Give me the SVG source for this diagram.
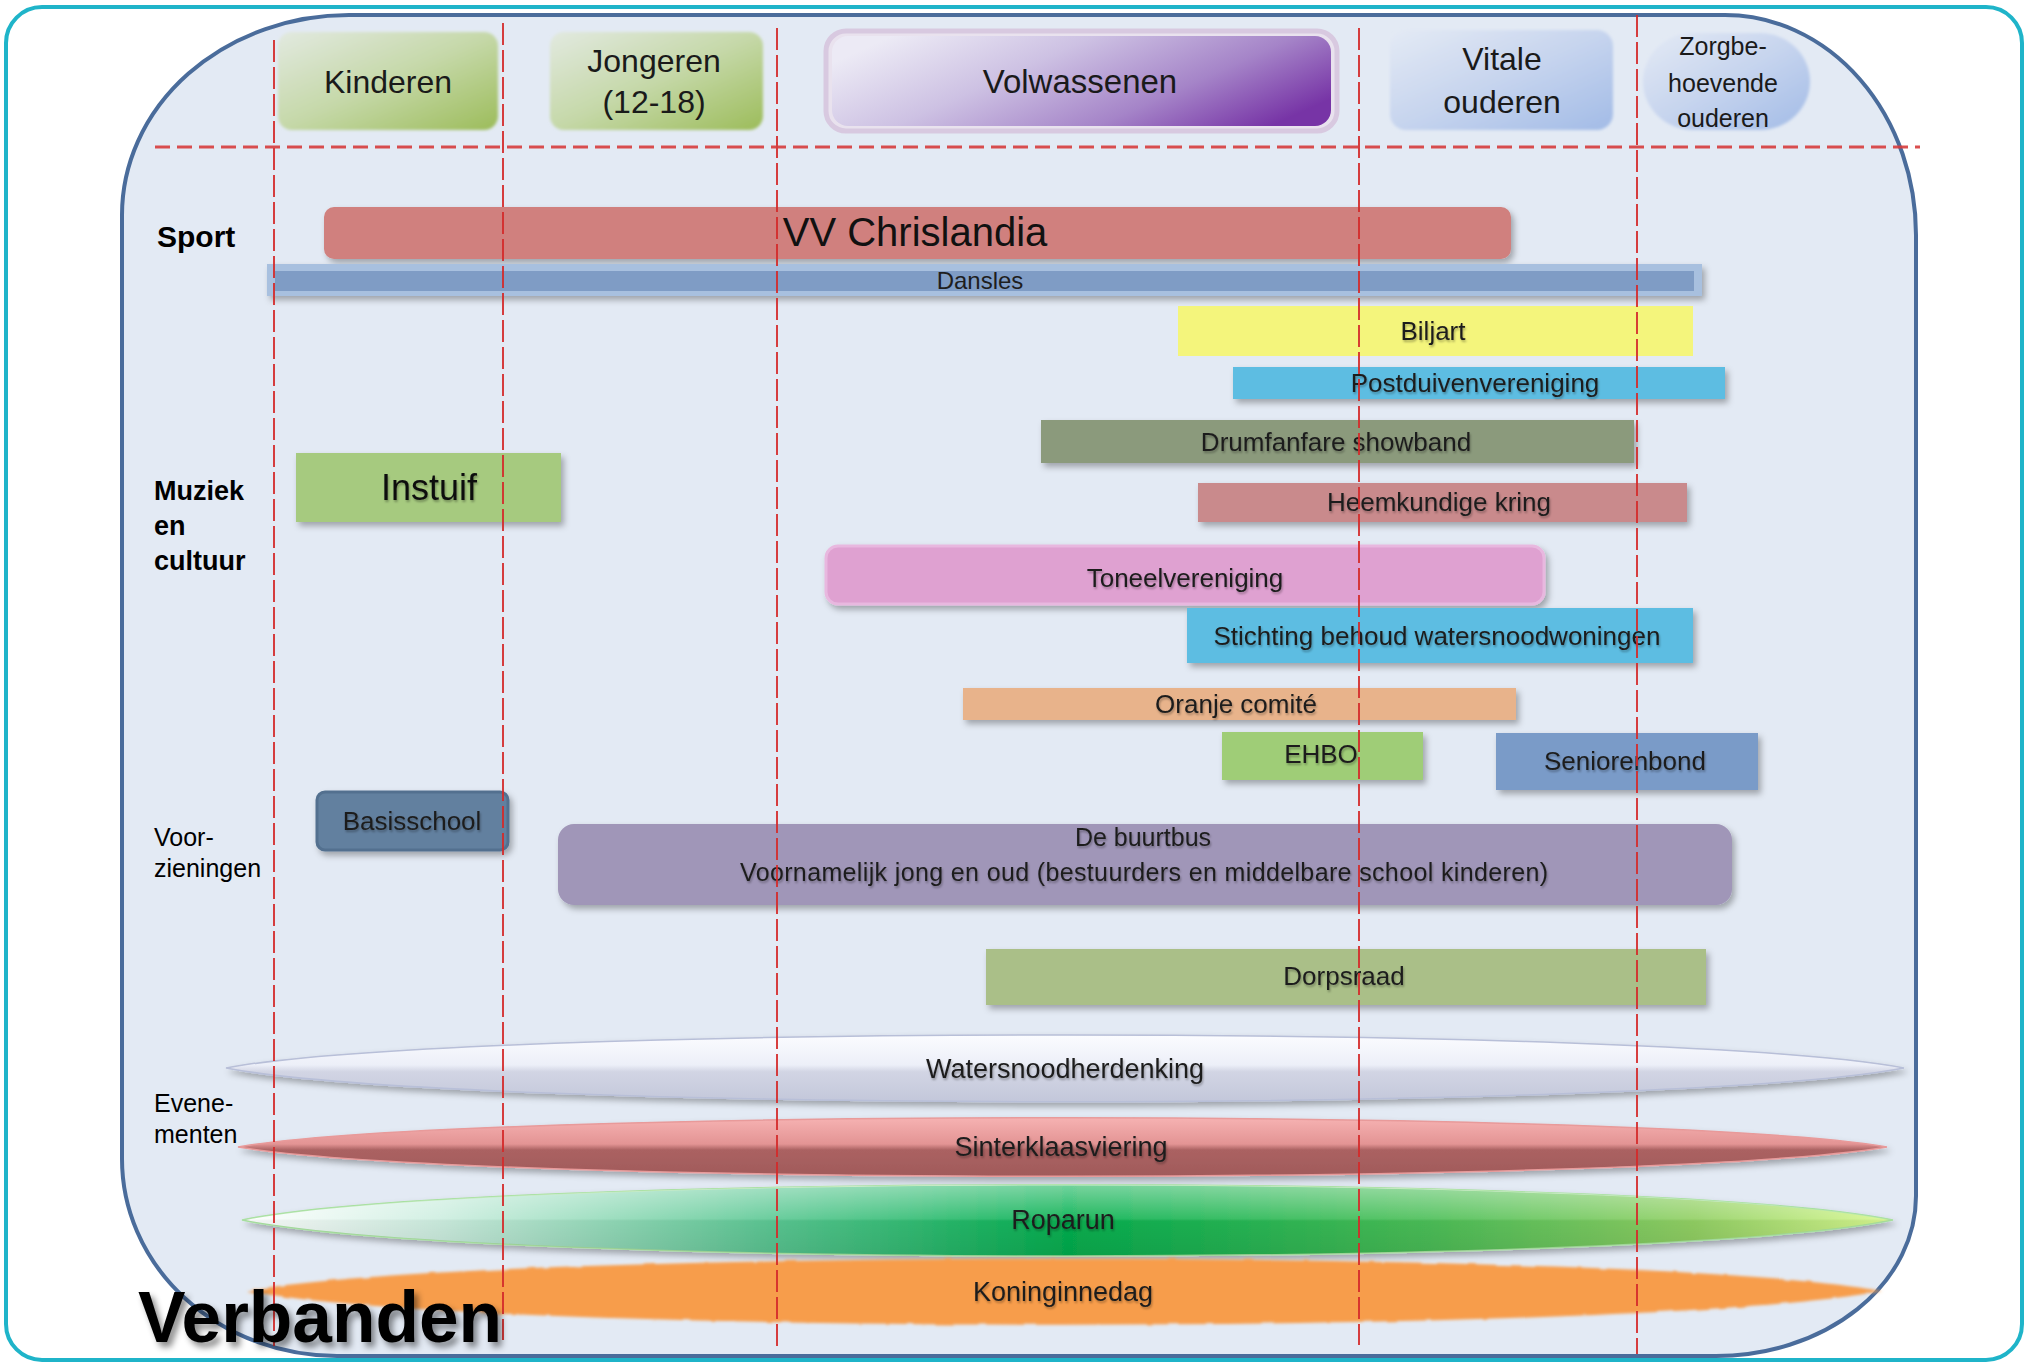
<svg xmlns="http://www.w3.org/2000/svg" width="2029" height="1363" viewBox="0 0 2029 1363">
<defs>
<style>
.lbl{font-family:"Liberation Sans",Arial,sans-serif;font-size:26px;fill:#1e1e1e;text-anchor:middle}
.hdr{font-family:"Liberation Sans",Arial,sans-serif;font-size:32px;fill:#1a1a1a;text-anchor:middle}
.row{font-family:"Liberation Sans",Arial,sans-serif;font-size:25px;fill:#000}
.rowb{font-family:"Liberation Sans",Arial,sans-serif;font-weight:bold;fill:#000}
.vd{stroke:#d42a2a;stroke-width:2;stroke-dasharray:22 5;fill:none}
.hd{stroke:#d63c3c;stroke-width:3;stroke-dasharray:15 7;fill:none}
</style>
<filter id="sh" x="-0.05" y="-0.5" width="1.1" height="2.2">
<feDropShadow dx="3" dy="4" stdDeviation="3" flood-color="#000" flood-opacity="0.3"/>
</filter>
<filter id="ts" x="-0.1" y="-0.3" width="1.2" height="1.6">
<feDropShadow dx="1" dy="2" stdDeviation="1.2" flood-color="#000" flood-opacity="0.3"/>
</filter>
<filter id="vs" x="-0.1" y="-0.3" width="1.3" height="1.7">
<feDropShadow dx="4" dy="5" stdDeviation="3" flood-color="#000" flood-opacity="0.45"/>
</filter>
<filter id="soft" x="-0.1" y="-0.2" width="1.2" height="1.4">
<feGaussianBlur stdDeviation="1.5"/>
</filter>
<filter id="fuzzy" x="-0.05" y="-0.5" width="1.1" height="2">
<feTurbulence type="fractalNoise" baseFrequency="0.05" numOctaves="2" result="n"/>
<feDisplacementMap in="SourceGraphic" in2="n" scale="3" xChannelSelector="R" yChannelSelector="G" result="d"/>
<feGaussianBlur in="d" stdDeviation="1.5"/>
</filter>
<linearGradient id="gGreen" x1="0" y1="0" x2="1" y2="1">
<stop offset="0" stop-color="#e2e9e0"/><stop offset="0.5" stop-color="#c5d8a8"/><stop offset="1" stop-color="#9cbc5a"/>
</linearGradient>
<linearGradient id="gBlue" x1="0" y1="0" x2="1" y2="1">
<stop offset="0" stop-color="#e4eaf5"/><stop offset="0.5" stop-color="#c6d4ee"/><stop offset="1" stop-color="#a2bbe6"/>
</linearGradient>
<linearGradient id="gPurple" x1="0" y1="0.3" x2="1" y2="0.7">
<stop offset="0" stop-color="#eceaf5"/><stop offset="0.35" stop-color="#cdc1e3"/><stop offset="0.7" stop-color="#a584c8"/><stop offset="1" stop-color="#7734a6"/>
</linearGradient>
<linearGradient id="gWater" x1="0" y1="0" x2="0" y2="1">
<stop offset="0" stop-color="#fbfcff"/><stop offset="0.45" stop-color="#eceff8"/><stop offset="0.55" stop-color="#d2d5e4"/><stop offset="1" stop-color="#c3c7da"/>
</linearGradient>
<linearGradient id="gSint" x1="0" y1="0" x2="0" y2="1">
<stop offset="0" stop-color="#f6b2b2"/><stop offset="0.45" stop-color="#e39494"/><stop offset="0.55" stop-color="#ab6262"/><stop offset="1" stop-color="#a05a5a"/>
</linearGradient>
<linearGradient id="gRopa" x1="0" y1="0" x2="1" y2="0">
<stop offset="0" stop-color="#ffffff"/><stop offset="0.12" stop-color="#cdeee0"/><stop offset="0.32" stop-color="#5cc894"/><stop offset="0.5" stop-color="#05b050"/><stop offset="0.72" stop-color="#4cbf58"/><stop offset="0.88" stop-color="#92d064"/><stop offset="1" stop-color="#d8f890"/>
</linearGradient>
<linearGradient id="gGloss" x1="0" y1="0" x2="0" y2="1">
<stop offset="0" stop-color="#ffffff" stop-opacity="0.45"/><stop offset="0.48" stop-color="#ffffff" stop-opacity="0.1"/><stop offset="0.52" stop-color="#000000" stop-opacity="0.04"/><stop offset="1" stop-color="#000000" stop-opacity="0.1"/>
</linearGradient>
</defs>

<rect x="0" y="0" width="2029" height="1363" fill="#ffffff"/>
<g id="frame">
<rect x="6" y="7" width="2016" height="1353" rx="36" fill="#ffffff" stroke="#1fb4c9" stroke-width="4"/>
<path d="M349 15 L1725 15 A191 220 0 0 1 1916 235 L1916 1196 A200 160 0 0 1 1716 1356 L337 1356 A215 197 0 0 1 122 1159 L122 215 A227 200 0 0 1 349 15 Z" fill="#e3eaf4" stroke="#4a6c9b" stroke-width="4"/>
</g>

<g id="hdr-kinderen">
<rect x="278" y="32" width="220" height="98" rx="14" fill="url(#gGreen)" filter="url(#soft)"/>
<text class="hdr" x="388" y="93">Kinderen</text>
</g>
<g id="hdr-jongeren">
<rect x="550" y="32" width="213" height="98" rx="14" fill="url(#gGreen)" filter="url(#soft)"/>
<text class="hdr" x="654" y="72">Jongeren</text>
<text class="hdr" x="654" y="113">(12-18)</text>
</g>
<g id="hdr-volwassenen">
<rect x="826" y="31" width="511" height="100" rx="20" fill="#e9e2ee" stroke="#d8c9e0" stroke-width="5"/>
<rect x="832" y="36" width="499" height="90" rx="16" fill="url(#gPurple)"/>
<text class="hdr" x="1080" y="93" style="font-size:33px">Volwassenen</text>
</g>
<g id="hdr-vitale">
<rect x="1390" y="30" width="223" height="100" rx="16" fill="url(#gBlue)" filter="url(#soft)"/>
<text class="hdr" x="1502" y="70">Vitale</text>
<text class="hdr" x="1502" y="113">ouderen</text>
</g>
<g id="hdr-zorg">
<rect x="1643" y="33" width="167" height="97" rx="50" fill="url(#gBlue)" filter="url(#soft)"/>
<text class="hdr" x="1723" y="55" style="font-size:25px">Zorgbe-</text>
<text class="hdr" x="1723" y="92" style="font-size:25px">hoevende</text>
<text class="hdr" x="1723" y="127" style="font-size:25px">ouderen</text>
</g>

<g id="vv-chrislandia">
<rect x="324" y="207" width="1187" height="52" rx="10" fill="#d0807e" filter="url(#sh)"/>
<text class="lbl" x="915" y="246" style="font-size:40px;fill:#111">VV Chrislandia</text>
</g>
<g id="dansles">
<rect x="267" y="264" width="1435" height="32" fill="#a8c0df" filter="url(#sh)"/>
<rect x="275" y="271" width="1419" height="20" fill="#7f9cc5"/>
<text class="lbl" x="980" y="289" style="font-size:24px">Dansles</text>
</g>
<g id="biljart">
<rect x="1178" y="306" width="515" height="50" fill="#f4f57c"/>
<text class="lbl" x="1433" y="340" filter="url(#ts)">Biljart</text>
</g>
<g id="postduivenvereniging">
<rect x="1233" y="367" width="492" height="32" fill="#5dbde2" filter="url(#sh)"/>
<text class="lbl" x="1475" y="392" filter="url(#ts)">Postduivenvereniging</text>
</g>
<g id="drumfanfare">
<rect x="1041" y="420" width="593" height="43" fill="#8b9a7c" filter="url(#sh)"/>
<text class="lbl" x="1336" y="451" filter="url(#ts)">Drumfanfare showband</text>
</g>
<g id="heemkundige">
<rect x="1198" y="483" width="489" height="39" fill="#c98a8c" filter="url(#sh)"/>
<text class="lbl" x="1439" y="511" filter="url(#ts)">Heemkundige kring</text>
</g>
<g id="instuif">
<rect x="296" y="453" width="265" height="69" fill="#a6ca7f" filter="url(#sh)"/>
<text class="lbl" x="429" y="500" style="font-size:36px;fill:#111" filter="url(#ts)">Instuif</text>
</g>
<g id="toneelvereniging">
<rect x="826" y="546" width="718" height="58" rx="12" fill="#dfa1d1" stroke="#e8b8df" stroke-width="3" filter="url(#sh)"/>
<text class="lbl" x="1185" y="587" filter="url(#ts)">Toneelvereniging</text>
</g>
<g id="stichting">
<rect x="1187" y="608" width="506" height="55" fill="#5dbde2" filter="url(#sh)"/>
<text class="lbl" x="1437" y="645" textLength="447" filter="url(#ts)">Stichting behoud watersnoodwoningen</text>
</g>
<g id="oranje-comite">
<rect x="963" y="688" width="553" height="32" fill="#e8b38b" filter="url(#sh)"/>
<text class="lbl" x="1236" y="713" filter="url(#ts)">Oranje comité</text>
</g>
<g id="ehbo">
<rect x="1222" y="732" width="201" height="48" fill="#9fcd77" filter="url(#sh)"/>
<text class="lbl" x="1321" y="763" filter="url(#ts)">EHBO</text>
</g>
<g id="seniorenbond">
<rect x="1496" y="733" width="262" height="57" fill="#7a9bc8" filter="url(#sh)"/>
<text class="lbl" x="1625" y="770" filter="url(#ts)">Seniorenbond</text>
</g>
<g id="basisschool">
<rect x="317" y="792" width="191" height="58" rx="8" fill="#62809f" stroke="#52708f" stroke-width="3" filter="url(#sh)"/>
<text class="lbl" x="412" y="830" filter="url(#ts)">Basisschool</text>
</g>
<g id="buurtbus">
<rect x="558" y="824" width="1174" height="81" rx="16" fill="#a096b8" filter="url(#sh)"/>
<text class="lbl" x="1143" y="846" style="font-size:25px" filter="url(#ts)">De buurtbus</text>
<text class="lbl" x="1144" y="881" style="font-size:25px" textLength="808" filter="url(#ts)">Voornamelijk jong en oud (bestuurders en middelbare school kinderen)</text>
</g>
<g id="dorpsraad">
<rect x="986" y="949" width="720" height="56" fill="#aabf88" filter="url(#sh)"/>
<text class="lbl" x="1344" y="985" filter="url(#ts)">Dorpsraad</text>
</g>

<g id="watersnoodherdenking">
<path d="M226,1068 C461,1024 1669,1024 1904,1068 C1669,1113 461,1113 226,1068 Z" fill="url(#gWater)" stroke="#b8bfd8" stroke-width="1.5" filter="url(#sh)"/>
<text class="lbl" x="1065" y="1078" style="font-size:27px" filter="url(#ts)">Watersnoodherdenking</text>
</g>
<g id="sinterklaasviering">
<path d="M238,1147 C469,1108 1656,1108 1887,1147 C1656,1186 469,1186 238,1147 Z" fill="url(#gSint)" stroke="#e89a9a" stroke-width="1.5" filter="url(#sh)"/>
<text class="lbl" x="1061" y="1156" style="font-size:27px" filter="url(#ts)">Sinterklaasviering</text>
</g>
<g id="roparun">
<path d="M242,1220 C473,1173 1662,1173 1893,1220 C1662,1268 473,1268 242,1220 Z" fill="url(#gRopa)" stroke="#a8e0a0" stroke-width="1.5" filter="url(#sh)"/>
<path d="M242,1220 C473,1173 1662,1173 1893,1220 C1662,1268 473,1268 242,1220 Z" fill="url(#gGloss)"/>
<text class="lbl" x="1063" y="1229" style="font-size:27px" filter="url(#ts)">Roparun</text>
</g>
<g id="koninginnedag">
<path d="M247,1291 C476,1248 1652,1248 1881,1291 C1652,1336 476,1336 247,1291 Z" fill="#f79d4b" filter="url(#fuzzy)"/>
<text class="lbl" x="1063" y="1301" style="font-size:27px" filter="url(#ts)">Koninginnedag</text>
</g>

<g id="grid" opacity="0.9">
<line class="hd" x1="155" y1="147" x2="1920" y2="147"/>
<line class="vd" x1="274" y1="40" x2="274" y2="1346"/>
<line class="vd" x1="503" y1="23" x2="503" y2="1340"/>
<line class="vd" x1="777" y1="28" x2="777" y2="1346"/>
<line class="vd" x1="1359" y1="28" x2="1359" y2="1345"/>
<line class="vd" x1="1637" y1="15" x2="1637" y2="1354"/>
</g>

<g id="row-labels">
<text class="rowb" x="157" y="247" style="font-size:30px">Sport</text>
<text class="rowb" x="154" y="500" style="font-size:27px">Muziek</text>
<text class="rowb" x="154" y="535" style="font-size:27px">en</text>
<text class="rowb" x="154" y="570" style="font-size:27px">cultuur</text>
<text class="row" x="154" y="846">Voor-</text>
<text class="row" x="154" y="877">zieningen</text>
<text class="row" x="154" y="1112">Evene-</text>
<text class="row" x="154" y="1143">menten</text>
</g>
<g id="title">
<text class="rowb" x="138" y="1342" style="font-size:72px" textLength="364" lengthAdjust="spacingAndGlyphs" filter="url(#vs)">Verbanden</text>
</g>
</svg>
